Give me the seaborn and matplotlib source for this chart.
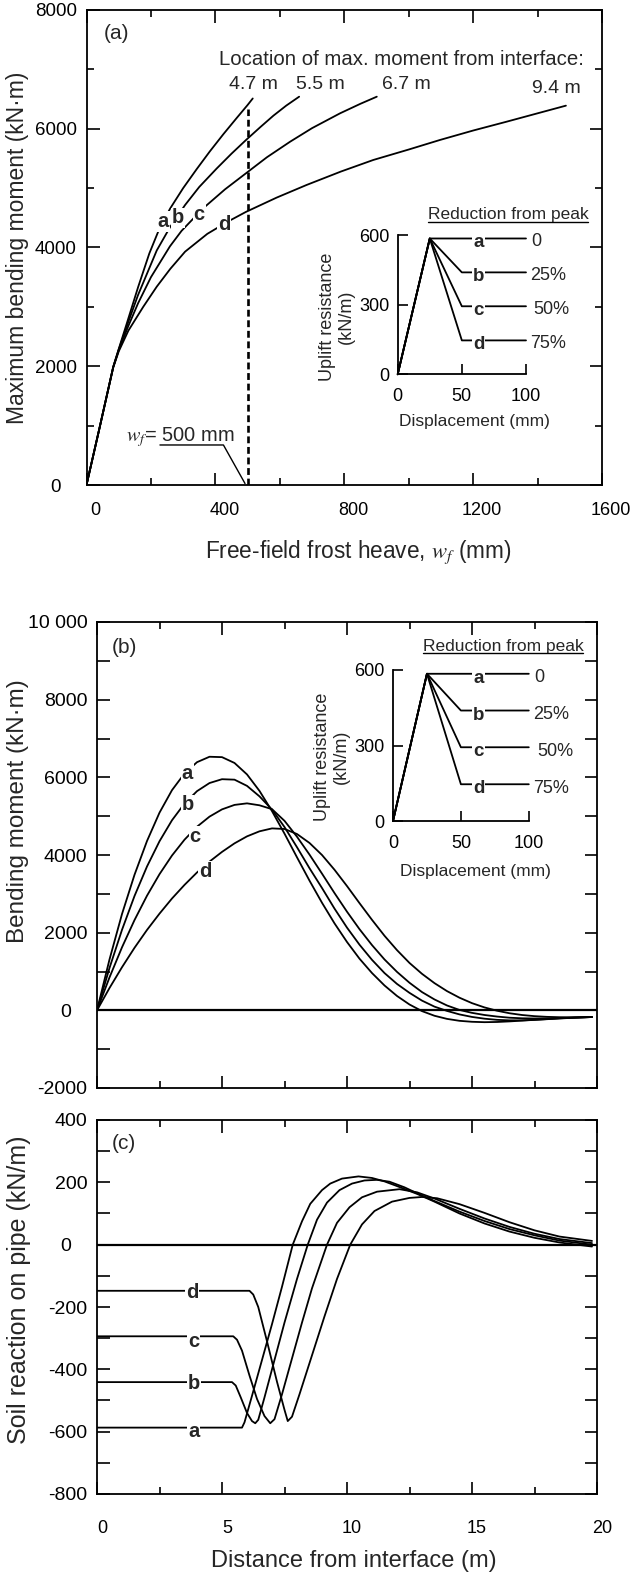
import numpy as np
import matplotlib
matplotlib.use("Agg")
import matplotlib.pyplot as plt
import seaborn as sns
from matplotlib.transforms import ScaledTranslation
from matplotlib.lines import Line2D
from matplotlib.ticker import MultipleLocator

# ---------------- Panel (a): max bending moment vs free-field frost heave
wf_a = [0, 40, 83, 100, 125, 160, 195, 228, 260, 300, 342, 383, 425, 466, 500, 516]
M_a = [0, 950, 1990, 2290, 2720, 3330, 3900, 4340, 4660, 5000, 5320, 5620, 5910, 6180, 6400, 6510]
wf_b = [0, 40, 83, 100, 130, 160, 218, 259, 306, 350, 404, 450, 495, 540, 580, 620, 660]
M_b = [0, 950, 1990, 2280, 2750, 3200, 3950, 4340, 4716, 5020, 5330, 5580, 5810, 6030, 6220, 6390, 6540]
wf_c = [0, 40, 83, 100, 130, 160, 200, 259, 295, 362, 430, 495, 560, 632, 700, 787, 850, 901]
M_c = [0, 950, 1985, 2270, 2680, 3060, 3500, 4020, 4280, 4660, 4980, 5250, 5520, 5782, 6010, 6260, 6420, 6540]
wf_d = [0, 40, 83, 100, 130, 176, 218, 260, 306, 375, 440, 495, 590, 683, 790, 890, 1000, 1097, 1200,
        1304, 1400, 1488]
M_d = [0, 950, 1980, 2250, 2600, 3000, 3340, 3640, 3930, 4230, 4440, 4600, 4840, 5053, 5280, 5474, 5650,
       5811, 5970, 6119, 6260, 6389]
loc_labels = ["4.7 m", "5.5 m", "6.7 m", "9.4 m"]
wf_ref = 500

# ---------------- Panel (b): bending moment vs distance
x_b = [0, 0.5, 1, 1.5, 2, 2.5, 3, 3.5, 4, 4.5, 5, 5.5, 6, 6.5, 7, 7.5, 8, 8.5, 9, 9.5, 10,
       10.5, 11, 11.5, 12, 12.5, 13, 13.5, 14, 14.5, 15, 15.5, 16, 16.5, 17, 17.5, 18, 18.5, 19, 19.5, 19.8]
Mb_a = [0, 1310, 2480, 3490, 4360, 5090, 5670, 6100, 6390, 6530, 6520, 6370, 6075, 5650, 5130, 4550, 3940,
        3340, 2770, 2240, 1760, 1330, 960, 640, 370, 150, -20, -140, -220, -270, -295, -305, -300, -285,
        -265, -245, -225, -205, -190, -178, -172]
Mb_b = [0, 1091, 2073, 2944, 3704, 4354, 4895, 5325, 5644, 5853, 5952, 5940, 5780, 5510, 5170, 4720, 4200,
        3660, 3150, 2620, 2130, 1690, 1300, 960, 680, 450, 250, 95, -15, -105, -170, -215, -245, -258,
        -258, -245, -228, -210, -193, -180, -172]
Mb_c = [0, 848, 1623, 2324, 2952, 3506, 3987, 4394, 4728, 4988, 5175, 5290, 5330, 5280, 5180, 4880, 4470,
        4010, 3520, 3020, 2540, 2090, 1680, 1310, 990, 710, 470, 280, 125, 10, -65, -120, -160, -190,
        -205, -210, -208, -200, -190, -180, -172]
Mb_d = [0, 575, 1110, 1610, 2070, 2490, 2880, 3230, 3550, 3830, 4080, 4300, 4480, 4610, 4685, 4670, 4540,
        4310, 4000, 3620, 3200, 2760, 2330, 1920, 1550, 1220, 940, 700, 495, 325, 185, 75, -10, -75,
        -120, -150, -168, -177, -178, -175, -172]

# ---------------- Panel (c): soil reaction on pipe
xc_a = [0, 5.8, 5.9, 6.2, 6.6, 7.0, 7.4, 7.83, 8.2, 8.53, 9.0, 9.33, 9.8, 10.46, 11.0, 11.5, 12.0, 12.8,
        13.5, 14.5, 15.5, 16.5, 17.5, 18.5, 19.8]
qc_a = [-587, -587, -570, -485, -370, -255, -135, 0, 75, 131, 175, 196, 212, 219, 214, 203, 188, 163,
        138, 100, 68, 42, 22, 7, -6]
xc_b = [0, 5.4, 5.55, 5.75, 6.0, 6.2, 6.33, 6.45, 6.7, 7.0, 7.5, 8.0, 8.43, 8.8, 9.2, 9.7, 10.2, 10.7,
        11.2, 11.7, 12.3, 12.8, 13.5, 14.5, 15.5, 16.5, 17.5, 18.5, 19.8]
qc_b = [-441, -441, -452, -490, -540, -566, -573, -562, -490, -400, -250, -110, 0, 80, 135, 175, 196, 206,
        208, 202, 184, 165, 140, 106, 76, 50, 30, 13, 0]
xc_c = [0, 5.45, 5.6, 5.8, 6.1, 6.4, 6.7, 6.93, 7.1, 7.4, 7.8, 8.2, 8.6, 9.2, 9.6, 10.1, 10.6, 11.2, 12.1,
        12.8, 13.5, 14.5, 15.5, 16.5, 17.5, 18.5, 19.8]
qc_c = [-294, -294, -305, -340, -420, -495, -550, -573, -560, -480, -365, -250, -140, 0, 70, 120, 152, 170,
        178, 168, 148, 115, 84, 57, 35, 18, 5]
xc_d = [0, 6.1, 6.25, 6.45, 6.8, 7.2, 7.5, 7.63, 7.8, 8.1, 8.6, 9.1, 9.6, 10.13, 10.6, 11.1, 11.8, 12.5,
        13.0, 13.6, 14.5, 15.5, 16.5, 17.5, 18.5, 19.8]
qc_d = [-148, -148, -160, -200, -310, -440, -530, -566, -552, -480, -355, -230, -110, 0, 65, 108, 138, 150,
        153, 149, 130, 102, 72, 46, 26, 12]

# ---------------- Inset: uplift resistance vs displacement
ins_x = [0, 25, 50, 100]
ins_a = [0, 585, 585, 585]
ins_b = [0, 585, 439, 439]
ins_c = [0, 585, 293, 293]
ins_d = [0, 585, 146, 146]
ins_reduction = ["0", "25%", "50%", "75%"]
curve_names = ["a", "b", "c", "d"]

# tick labels
a_xticks = [0, 400, 800, 1200, 1600]
a_xticklabels = ["0", "400", "800", "1200", "1600"]
a_yticks = [0, 2000, 4000, 6000, 8000]
a_yticklabels = ["0", "2000", "4000", "6000", "8000"]
b_yticks = [-2000, 0, 2000, 4000, 6000, 8000, 10000]
b_yticklabels = ["-2000", "0", "2000", "4000", "6000", "8000", "10 000"]
c_yticks = [-800, -600, -400, -200, 0, 200, 400]
c_yticklabels = ["-800", "-600", "-400", "-200", "0", "200", "400"]
bc_xticks = [0, 5, 10, 15, 20]
bc_xticklabels = ["0", "5", "10", "15", "20"]
ins_xticks = [0, 50, 100]
ins_yticks = [0, 300, 600]

# ---------------- style
sns.set_theme(style="ticks")
plt.rcParams["font.family"] = ["Liberation Sans", "DejaVu Sans"]
plt.rcParams["mathtext.fontset"] = "stix"
plt.rcParams["axes.unicode_minus"] = False
plt.rcParams["axes.linewidth"] = 1.3

XTICK = 13
YTICK = 14
ANN = 14
INS = 13
LET = 14.5
PAN = 15
LW = 1.3

W, H = 635, 1574
fig = plt.figure(figsize=(W / 100, H / 100), dpi=100)
fig.patch.set_facecolor("white")


def px_axes(left, top, right, bottom):
    return fig.add_axes([left / W, 1 - bottom / H, (right - left) / W, (bottom - top) / H])


def line(ax, x, y, lw=LW, **kw):
    sns.lineplot(x=x, y=y, ax=ax, color="black", linewidth=lw, estimator=None,
                 sort=False, legend=False, **kw)


def style_ticks(ax, xmin_len=5, ymin_len=5, xpad=12, ypad=7, ytick=YTICK):
    ax.tick_params(which="both", direction="in", top=True, right=True, width=1.2, colors="black")
    ax.tick_params(axis="x", which="major", length=9, pad=xpad, labelsize=XTICK)
    ax.tick_params(axis="y", which="major", length=9, pad=ypad, labelsize=ytick)
    ax.tick_params(axis="x", which="minor", length=xmin_len)
    ax.tick_params(axis="y", which="minor", length=ymin_len)
    for s in ax.spines.values():
        s.set_linewidth(1.3)
        s.set_color("black")


def shift_labels(labels, dx_px, only=None):
    for lb in labels:
        if only is None or lb.get_text() == only:
            lb.set_transform(lb.get_transform() + ScaledTranslation(dx_px / 100, 0, fig.dpi_scale_trans))


lab_box = dict(facecolor="white", edgecolor="none", pad=0.6)

# ================= Panel (a)
axA = px_axes(86.5, 10, 602, 485)
axA.set_facecolor("white")
for xs, ys in [(wf_a, M_a), (wf_b, M_b), (wf_c, M_c), (wf_d, M_d)]:
    line(axA, xs, ys)
axA.set_xlim(0, 1600)
axA.set_ylim(0, 8000)
axA.set_xticks(a_xticks, labels=a_xticklabels)
axA.set_yticks(a_yticks, labels=a_yticklabels)
axA.xaxis.set_minor_locator(MultipleLocator(200))
axA.yaxis.set_minor_locator(MultipleLocator(1000))
style_ticks(axA, ytick=13.5)
axA.set_xlabel(r"Free-field frost heave, $w_f$ (mm)", fontsize=16.3)
axA.xaxis.set_label_coords(0.527, -0.112)
axA.set_ylabel("Maximum bending moment (kN\u00b7m)", fontsize=16.5)
axA.yaxis.set_label_coords(-0.111, 0.5)

# dashed line at reference heave
top_ref = float(np.interp(wf_ref, wf_a, M_a)) - 60
axA.plot([wf_ref, wf_ref], [0, top_ref], color="black", lw=1.9, ls=(0, (2.6, 1.4)))
# w_f = 500 mm annotation with leader line
axA.plot([228, 425, wf_ref - 8], [674, 674, 25], color="black", lw=1.0)
axA.text(122, 730, r"$w_f$= 500 mm", fontsize=ANN + 0.5, ha="left", va="baseline")

axA.text(53, 7600, "(a)", fontsize=PAN, ha="left", va="center")
axA.text(1545, 7160, "Location of max. moment from interface:", fontsize=14.7, ha="right", va="center")
for lab, xo, yo in zip(loc_labels, [518, 725, 994, 1459], [6737, 6737, 6737, 6670]):
    axA.text(xo, yo, lab, fontsize=ANN, ha="center", va="center")
for nm, (xl, yl) in zip(curve_names, [(238, 4440), (285, 4500), (350, 4560), (428, 4390)]):
    axA.text(xl, yl, nm, fontsize=LET, fontweight="bold", ha="center", va="center", bbox=lab_box)


# ================= Insets
def make_inset(left, top, right, bottom, red_xy, ylab_xy, xlab_xy):
    ax = px_axes(left, top, right, bottom)
    ax.set_facecolor("none")
    for ys in [ins_a, ins_b, ins_c, ins_d]:
        line(ax, ins_x, ys, lw=1.3, clip_on=False)
    ax.set_xlim(0, 100)
    ax.set_ylim(0, 600)
    ax.spines["top"].set_visible(False)
    ax.spines["right"].set_visible(False)
    for s in ax.spines.values():
        s.set_linewidth(1.3)
        s.set_color("black")
    ax.set_xticks(ins_xticks)
    ax.set_yticks(ins_yticks)
    ax.tick_params(direction="in", length=7, width=1.2, labelsize=INS, colors="black")
    ax.tick_params(axis="x", pad=10)
    ax.tick_params(axis="y", pad=6)
    levels = [ins_a[-1], ins_b[-1], ins_c[-1], ins_d[-1]]
    for nm, lv, rd, xr in zip(curve_names, levels, ins_reduction, [104, 103, 106, 103]):
        ax.text(63, lv - 18, nm, fontsize=INS + 0.5, fontweight="bold", ha="center", va="center",
                bbox=dict(facecolor="white", edgecolor="none", pad=0.8))
        ax.text(xr, lv - 15, rd, fontsize=INS, ha="left", va="center")
    t = ax.text(red_xy[0], red_xy[1], "Reduction from peak", fontsize=INS - 0.5, ha="center", va="baseline")
    ax.text(ylab_xy[0], ylab_xy[1], "Uplift resistance\n(kN/m)", fontsize=INS, rotation=90,
            ha="center", va="center", multialignment="center", transform=ax.transAxes,
            linespacing=1.1)
    ax.text(xlab_xy[0], xlab_xy[1], "Displacement (mm)", fontsize=INS - 0.5, ha="center", va="center",
            transform=ax.transAxes)
    return ax, t


insA, redA = make_inset(397.7, 235, 526, 374.3, (86, 668), (-0.475, 0.41), (0.60, -0.34))

# ================= Panel (b)
axB = px_axes(97, 622, 597, 1088)
axB.set_facecolor("white")
for ys in [Mb_a, Mb_b, Mb_c, Mb_d]:
    line(axB, x_b, ys)
axB.axhline(0, color="black", lw=1.6, zorder=1)
axB.set_xlim(0, 20)
axB.set_ylim(-2000, 10000)
axB.set_xticks(bc_xticks, labels=[])
axB.set_yticks(b_yticks, labels=b_yticklabels)
axB.xaxis.set_minor_locator(MultipleLocator(2.5))
axB.yaxis.set_minor_locator(MultipleLocator(1000))
style_ticks(axB, ymin_len=9)
axB.set_ylabel("Bending moment (kN\u00b7m)", fontsize=17.5)
axB.yaxis.set_label_coords(-0.136, 0.594)
axB.text(0.58, 9340, "(b)", fontsize=PAN, ha="left", va="center")
for nm, (xl, yl) in zip(curve_names, [(3.62, 6110), (3.62, 5290), (3.93, 4470), (4.33, 3570)]):
    axB.text(xl, yl, nm, fontsize=LET, fontweight="bold", ha="center", va="center", bbox=lab_box)

insB, redB = make_inset(393, 670, 528.8, 821, (81, 676), (-0.449, 0.426), (0.61, -0.336))

# ================= Panel (c)
axC = px_axes(97, 1120, 597, 1494)
axC.set_facecolor("white")
for xs, ys in [(xc_a, qc_a), (xc_b, qc_b), (xc_c, qc_c), (xc_d, qc_d)]:
    line(axC, xs, ys)
axC.axhline(0, color="black", lw=1.6, zorder=1)
axC.set_xlim(0, 20)
axC.set_ylim(-800, 400)
axC.set_xticks(bc_xticks, labels=bc_xticklabels)
axC.set_yticks(c_yticks, labels=c_yticklabels)
axC.xaxis.set_minor_locator(MultipleLocator(2.5))
axC.yaxis.set_minor_locator(MultipleLocator(100))
style_ticks(axC, ymin_len=9, xpad=19)
axC.set_ylabel("Soil reaction on pipe (kN/m)", fontsize=18)
axC.yaxis.set_label_coords(-0.132, 0.545)
axC.set_xlabel("Distance from interface (m)", fontsize=17)
axC.xaxis.set_label_coords(0.513, -0.149)
axC.text(0.58, 326, "(c)", fontsize=PAN, ha="left", va="center")
for nm, (xl, yl) in zip(curve_names, [(3.87, -600), (3.87, -447), (3.87, -310), (3.8, -154)]):
    axC.text(xl, yl, nm, fontsize=LET, fontweight="bold", ha="center", va="center", bbox=lab_box)

# tick-label nudges to mimic the original typesetting
shift_labels(axA.get_xticklabels(), 9)
shift_labels(axC.get_xticklabels(), 5)
for ax in (axA, axB, axC):
    shift_labels(ax.get_yticklabels(), -16, only="0")

# underline the inset titles
fig.canvas.draw()
rend = fig.canvas.get_renderer()
for ax, t in [(insA, redA), (insB, redB)]:
    bb = t.get_window_extent(rend)
    ybase = ax.transData.transform((0, t.get_position()[1]))[1] - 2.5
    fig.add_artist(Line2D([bb.x0 / W, bb.x1 / W], [ybase / H, ybase / H],
                          transform=fig.transFigure, color="black", lw=1.0))

fig.savefig("out.png", dpi=100, facecolor="white")
